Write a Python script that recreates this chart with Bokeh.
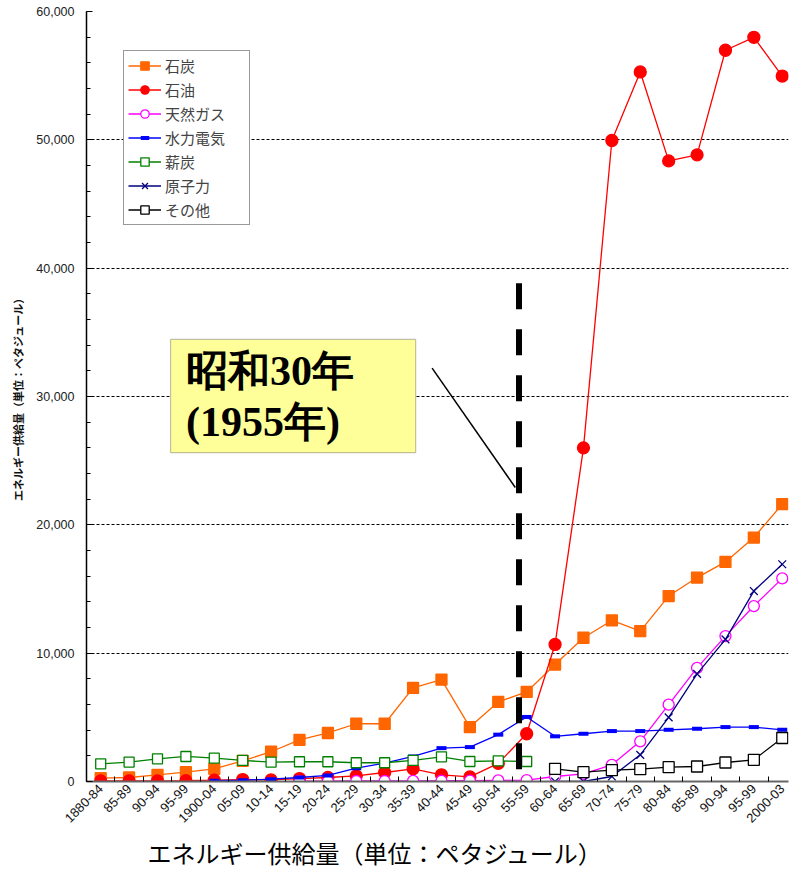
import math
import numpy as np
from bokeh.plotting import figure
from bokeh.models import (FixedTicker, NumeralTickFormatter, Legend, LegendItem,
                          BoxAnnotation, Label, Range1d, Title)
from bokeh.embed import file_html
from bokeh.resources import INLINE

categories = ["1880-84", "85-89", "90-94", "95-99", "1900-04", "05-09", "10-14", "15-19",
              "20-24", "25-29", "30-34", "35-39", "40-44", "45-49", "50-54", "55-59",
              "60-64", "65-69", "70-74", "75-79", "80-84", "85-89", "90-94", "95-99", "2000-03"]

coal = [260, 310, 520, 730, 990, 1610, 2320, 3250, 3780, 4500, 4500, 7290, 7940, 4240,
        6200, 6980, 9110, 11200, 12550, 11720, 14450, 15890, 17110, 19010, 21610]
oil = [50, 50, 50, 60, 100, 150, 120, 230, 310, 440, 700, 990, 520, 360,
       1410, 3720, 10680, 26000, 49950, 55290, 48360, 48830, 56980, 57990, 54970]
gas = [None] * 7 + [20, 30, 40, 40, 50, 60, 70, 80, 100, 390, 600, 1300, 3130,
                    5990, 8850, 11330, 13670, 15830]
hydro = [None] * 4 + [60, 100, 180, 310, 470, 1040, 1430, 1950, 2600, 2680, 3650,
                      5030, 3520, 3720, 3930, 3930, 4030, 4110, 4240, 4240, 4030]
firewood = [1380, 1510, 1770, 1950, 1820, 1640, 1510, 1540, 1540, 1460, 1460, 1640,
            1920, 1560, 1610, 1560] + [None] * 9
nuclear = [None] * 16 + [0, 0, 390, 2080, 5000, 8390, 11070, 14840, 16930]
other = [None] * 16 + [990, 730, 890, 960, 1120, 1170, 1480, 1690, 3390]

y_ticks = [0, 10000, 20000, 30000, 40000, 50000, 60000]

def arr(v):
    return np.array([np.nan if a is None else a for a in v], dtype=float)

xs = np.arange(len(categories))

p = figure(width=790, height=872, output_backend="svg", toolbar_location=None,
           x_range=Range1d(-0.5, 24.22), y_range=Range1d(0, 60000),
           min_border_left=86, min_border_right=2, min_border_top=11, min_border_bottom=80)
p.outline_line_color = None
p.background_fill_color = "white"

# grid
p.xgrid.visible = False
p.ygrid.grid_line_color = "black"
p.ygrid.grid_line_dash = "3 2"
p.ygrid.grid_line_width = 1

# y axis
p.yaxis.ticker = FixedTicker(ticks=y_ticks, minor_ticks=list(range(0, 60001, 2000)))
p.yaxis.formatter = NumeralTickFormatter(format="0,0")
p.yaxis.major_tick_in = 6
p.yaxis.major_tick_out = 0
p.yaxis.minor_tick_in = 4
p.yaxis.minor_tick_out = 0
p.yaxis.axis_line_color = "black"
p.yaxis.axis_line_width = 1.5
p.yaxis.major_label_text_font = "Liberation Sans"
p.yaxis.major_label_text_font_size = "12.5px"
p.yaxis.major_label_text_color = "#222222"
p.yaxis.major_label_standoff = 12
p.yaxis.axis_label = "エネルギー供給量（単位：ペタジュール）"
p.yaxis.axis_label_text_font = "Noto Sans CJK JP"
p.yaxis.axis_label_text_font_size = "11px"
p.yaxis.axis_label_text_font_style = "bold"
p.yaxis.axis_label_text_color = "#111111"
p.yaxis.axis_label_standoff = 7

# x axis
p.xaxis.ticker = FixedTicker(ticks=list(range(len(categories))),
                             minor_ticks=[i - 0.5 for i in range(len(categories) + 1)])
p.xaxis.major_label_overrides = {i: c for i, c in enumerate(categories)}
p.xaxis.major_label_orientation = math.pi / 4
p.xaxis.major_tick_in = 0
p.xaxis.major_tick_out = 0
p.xaxis.minor_tick_in = 5
p.xaxis.minor_tick_out = 0
p.xaxis.axis_line_color = "#666666"
p.xaxis.axis_line_width = 2
p.xaxis.major_label_text_font = "Liberation Sans"
p.xaxis.major_label_text_font_size = "13px"
p.xaxis.major_label_text_color = "#111111"
p.xaxis.major_label_standoff = 5

items = []

def series(label, data, color, marker, size, fill, lw=1.3, mlw=1.3):
    y = arr(data)
    r1 = p.line(xs, y, line_color=color, line_width=lw)
    r2 = p.scatter(xs, y, marker=marker, size=size, line_color=color,
                   fill_color=fill, line_width=mlw)
    items.append(LegendItem(label=label, renderers=[r1, r2]))

series("石炭", coal, "#FF6600", "square", 11, "#FF6600")
series("石油", oil, "#FF0000", "circle", 12, "#FF0000")
series("天然ガス", gas, "#FF00FF", "circle", 11, "white")
series("水力電気", hydro, "#0000FF", "dash", 10, "#0000FF", lw=1.3, mlw=4)
series("薪炭", firewood, "#008000", "square", 10, "white")
series("原子力", nuclear, "#000080", "x", 11, "#000080")
series("その他", other, "black", "square", 11, "white")

legend = Legend(items=items, location=(37, 556))
legend.label_text_font = "Noto Sans CJK JP"
legend.label_text_font_size = "15px"
legend.glyph_width = 33
legend.glyph_height = 21
legend.spacing = 3
legend.padding = 4
legend.margin = 0
legend.label_standoff = 4
legend.label_width = 80
legend.border_line_color = "#333333"
legend.border_line_width = 1
legend.background_fill_color = "white"
legend.background_fill_alpha = 1
p.add_layout(legend)

# 1955 marker: thick dashed vertical line
p.line([14.73, 14.73], [38830, 400], line_color="black", line_width=6, line_dash="26 20")
# pointer line
p.line([11.67, 14.6], [32210, 22910], line_color="black", line_width=1.5)

box = BoxAnnotation(left=2.46, right=11.09, top=34450, bottom=25625,
                    fill_color="#FFFF99", fill_alpha=1, line_color="#333333", line_width=1.2)
p.add_layout(box)
for txt, yy in [("昭和30年", 32000), ("(1955年)", 28050)]:
    p.add_layout(Label(x=3.0, y=yy, text=txt, text_font="Liberation Serif",
                       text_font_size="42px", text_font_style="bold",
                       text_baseline="middle", text_align="left", text_color="black"))

# bottom axis title
p.add_layout(Title(text="エネルギー供給量（単位：ペタジュール）", align="left", offset=61,
                   text_font="Noto Sans CJK JP", text_font_size="24px",
                   text_font_style="normal", text_color="black", standoff=6), "below")

open("out.html", "w").write(file_html(p, INLINE))
